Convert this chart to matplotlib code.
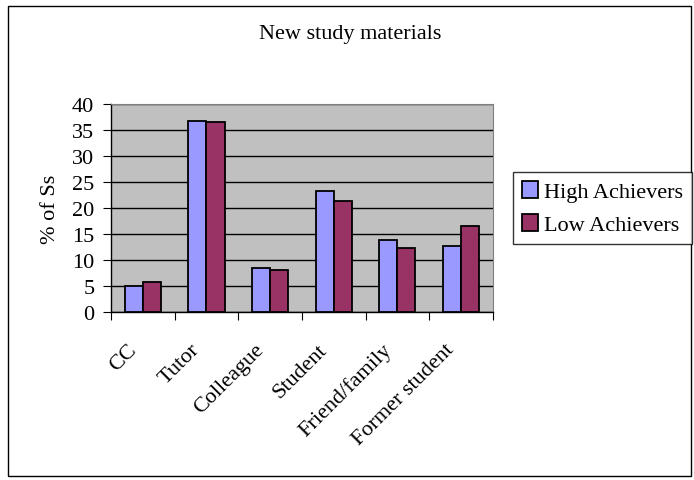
import numpy as np
import matplotlib.pyplot as plt
from matplotlib.patches import Rectangle
from matplotlib.transforms import ScaledTranslation

categories = ["CC", "Tutor", "Colleague", "Student", "Friend/family", "Former student"]
high = [5.0, 36.8, 8.4, 23.3, 13.8, 12.7]
low = [5.8, 36.5, 8.0, 21.4, 12.3, 16.5]

plt.rcParams['font.family'] = ['Liberation Serif', 'DejaVu Serif']

fig = plt.figure(figsize=(6.94, 4.81), dpi=100)
ax = fig.add_axes([0.160, 0.349, 0.550, 0.433])
ax.set_facecolor('#C0C0C0')

x = np.arange(len(categories))
w = 1 / 3.5
ax.bar(x - w / 2, high, w, color='#9999FF', edgecolor='black', linewidth=1.3,
       label='High Achievers', zorder=3)
ax.bar(x + w / 2, low, w, color='#993366', edgecolor='black', linewidth=1.3,
       label='Low Achievers', zorder=3)

ax.set_xlim(-0.5, len(categories) - 0.5)
ax.set_ylim(0, 40)
ax.set_yticks(range(0, 41, 5))
ax.yaxis.grid(True, color='black', linewidth=1, zorder=1)
ax.set_axisbelow(True)

ax.set_xticks(np.arange(len(categories) + 1) - 0.5)
ax.set_xticklabels([])
ax.set_xticks(x, minor=True)
ax.set_xticklabels(categories, minor=True, rotation=45, ha='right',
                   rotation_mode='anchor', fontsize=16)
ax.tick_params(axis='x', which='minor', length=0, pad=20)
ax.tick_params(axis='x', which='major', length=6, direction='out')
ax.tick_params(axis='y', length=6, direction='out', labelsize=16, pad=6)

# shift category labels to the left, like the original
offset = ScaledTranslation(-16 / 100, 0, fig.dpi_scale_trans)
for lbl in ax.get_xticklabels(minor=True):
    lbl.set_transform(lbl.get_transform() + offset)

for s in ['top', 'right']:
    ax.spines[s].set_color('#808080')
    ax.spines[s].set_linewidth(0.8)
ax.spines['left'].set_linewidth(1)
ax.spines['bottom'].set_linewidth(1)

ax.set_ylabel('% of Ss', fontsize=16, labelpad=9)
fig.text(0.505, 0.928, 'New study materials', ha='center', va='center', fontsize=16)

leg = fig.legend(loc='center left', bbox_to_anchor=(0.739, 0.565, 0.25, 0.0),
                 fontsize=16, frameon=True, fancybox=False, edgecolor='black',
                 handlelength=0.75, handleheight=0.75, handletextpad=0.25,
                 labelspacing=0.55, borderpad=0.4, borderaxespad=0)
leg.get_frame().set_linewidth(1)

fig.patches.append(Rectangle((0.011, 0.008), 0.984, 0.978, transform=fig.transFigure,
                             fill=False, edgecolor='black', linewidth=1))

fig.savefig('out.png', dpi=100)
